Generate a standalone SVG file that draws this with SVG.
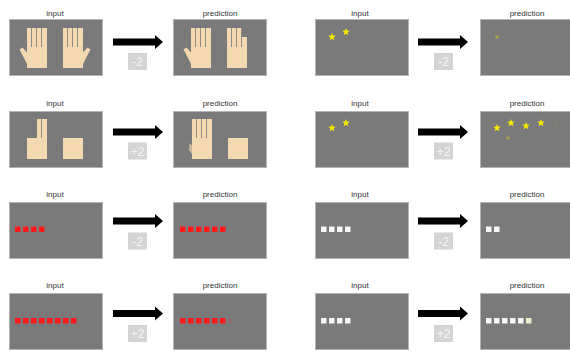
<svg xmlns="http://www.w3.org/2000/svg" xmlns:xlink="http://www.w3.org/1999/xlink" width="570" height="351" viewBox="0 0 570 351">
  <style>
    .panel { fill: #7a7a7a; stroke: #b4b4b4; stroke-width: 1; }
    .label { font-family: "Liberation Sans", Arial, sans-serif; font-size: 8px; fill: #333333; text-anchor: middle; }
    .skin { fill: #f3d8b2; }
    .star { fill: #f5e800; }
    .red { fill: #ff1a1a; }
    .white { fill: #f7f7f7; }
    .arrow { fill: #000000; }
    .op-box { fill: #d4d4d4; }
    .op-text { font-family: "Liberation Sans", Arial, sans-serif; font-size: 12px; fill: #f4f4f4; text-anchor: middle; }
  </style>
  <defs>
    <!-- hand parts, origin at the palm's top-left corner -->
    <g id="finger-a"><rect class="skin" x="0" y="-19" width="4.2" height="20"/></g>
    <g id="finger-b"><rect class="skin" x="5" y="-19" width="4.2" height="20"/></g>
    <g id="finger-c"><rect class="skin" x="10" y="-19" width="4.2" height="20"/></g>
    <g id="finger-d"><rect class="skin" x="15" y="-19" width="5" height="20"/></g>
    <g id="palm"><rect class="skin" x="0" y="0" width="20" height="21"/></g>
    <g id="thumb-left"><polygon class="skin" points="0.5,6 -4.5,0.5 -7.5,2.5 -3,11 0.5,18"/></g>
    <g id="thumb-right"><polygon class="skin" points="19.5,6 24.5,0.5 27.5,2.5 23,11 19.5,18"/></g>
    <g id="hand-left">
      <use href="#finger-a"/><use href="#finger-b"/><use href="#finger-c"/><use href="#finger-d"/>
      <use href="#palm"/><use href="#thumb-left"/>
    </g>
    <g id="hand-right">
      <use href="#finger-a"/><use href="#finger-b"/><use href="#finger-c"/><use href="#finger-d"/>
      <use href="#palm"/><use href="#thumb-right"/>
    </g>
    <path id="star" d="M0,-4 L1,-1.38 L3.8,-1.24 L1.62,0.53 L2.35,3.24 L0,1.7 L-2.35,3.24 L-1.62,0.53 L-3.8,-1.24 L-1,-1.38 Z"/>
    <rect id="sq" x="0" y="0" width="5.5" height="5.5"/>
    <polygon id="arrow" class="arrow" points="0,-3.5 42,-3.5 42,-7 50,0 42,7 42,3.5 0,3.5"/>
  </defs>

  <!-- row 1, left: fingers minus two -->
  <g id="r1-left-input">
    <text class="label" x="55" y="16">input</text>
    <rect class="panel" x="9.5" y="19.5" width="93" height="56"/>
    <use href="#hand-left" x="27" y="47"/>
    <use href="#hand-right" x="63" y="47"/>
  </g>
  <g id="r1-left-prediction">
    <text class="label" x="220" y="16">prediction</text>
    <rect class="panel" x="173.5" y="19.5" width="93" height="56"/>
    <use href="#hand-left" x="191" y="47"/>
    <g transform="translate(227,47)">
      <use href="#finger-a"/><use href="#finger-b"/><use href="#finger-c"/>
      <rect class="skin" x="15" y="-10" width="5" height="11"/>
      <use href="#palm"/>
    </g>
  </g>

  <!-- row 1, right: stars minus two -->
  <g id="r1-right-input">
    <text class="label" x="360" y="16">input</text>
    <rect class="panel" x="315.5" y="19.5" width="93" height="56"/>
    <use href="#star" class="star" x="332" y="37"/>
    <use href="#star" class="star" x="346" y="32"/>
  </g>
  <g id="r1-right-prediction">
    <text class="label" x="527" y="16">prediction</text>
    <rect class="panel" x="480.5" y="19.5" width="93" height="56"/>
    <use href="#star" fill="#a8a648" transform="translate(497,37) scale(0.7)"/>
  </g>

  <!-- row 2, left: fingers plus two -->
  <g id="r2-left-input">
    <text class="label" x="55" y="106">input</text>
    <rect class="panel" x="9.5" y="111.5" width="93" height="56"/>
    <g transform="translate(27,138)">
      <use href="#finger-c"/><use href="#finger-d"/><use href="#palm"/>
    </g>
    <use href="#palm" x="63" y="138"/>
  </g>
  <g id="r2-left-prediction">
    <text class="label" x="220" y="106">prediction</text>
    <rect class="panel" x="173.5" y="111.5" width="93" height="56"/>
    <g transform="translate(192,138)">
      <polygon points="0.5,8 -2.5,5 -3,12 0.5,17" fill="#c8b69a"/>
      <use href="#finger-a"/><use href="#finger-b"/><use href="#finger-c"/><use href="#finger-d"/>
      <use href="#palm"/>
    </g>
    <use href="#palm" x="228" y="138"/>
  </g>

  <!-- row 2, right: stars plus two -->
  <g id="r2-right-input">
    <text class="label" x="360" y="106">input</text>
    <rect class="panel" x="315.5" y="111.5" width="93" height="56"/>
    <use href="#star" class="star" x="332" y="128"/>
    <use href="#star" class="star" x="346" y="123"/>
  </g>
  <g id="r2-right-prediction">
    <text class="label" x="527" y="106">prediction</text>
    <rect class="panel" x="480.5" y="111.5" width="93" height="56"/>
    <use href="#star" class="star" x="497" y="128"/>
    <use href="#star" class="star" x="511" y="123"/>
    <use href="#star" class="star" x="526" y="126"/>
    <use href="#star" class="star" x="541" y="123"/>
    <use href="#star" fill="#a4a052" transform="translate(508,138) scale(0.75)"/>
    <use href="#star" fill="#858270" transform="translate(555,125) scale(0.6)"/>
  </g>

  <!-- row 3, left: red squares -->
  <g id="r3-left-input">
    <text class="label" x="55" y="197">input</text>
    <rect class="panel" x="9.5" y="202.5" width="93" height="56"/>
    <g class="red">
      <use href="#sq" x="15" y="226.5"/><use href="#sq" x="23" y="226.5"/>
      <use href="#sq" x="31" y="226.5"/><use href="#sq" x="39" y="226.5"/>
    </g>
  </g>
  <g id="r3-left-prediction">
    <text class="label" x="220" y="197">prediction</text>
    <rect class="panel" x="173.5" y="202.5" width="93" height="56"/>
    <g class="red">
      <use href="#sq" x="180" y="226.5"/><use href="#sq" x="188" y="226.5"/>
      <use href="#sq" x="196" y="226.5"/><use href="#sq" x="204" y="226.5"/>
      <use href="#sq" x="212" y="226.5"/><use href="#sq" x="220" y="226.5"/>
    </g>
  </g>

  <!-- row 3, right: white squares -->
  <g id="r3-right-input">
    <text class="label" x="360" y="197">input</text>
    <rect class="panel" x="315.5" y="202.5" width="93" height="56"/>
    <g class="white">
      <use href="#sq" x="321" y="226.5"/><use href="#sq" x="329" y="226.5"/>
      <use href="#sq" x="337" y="226.5"/><use href="#sq" x="345" y="226.5"/>
    </g>
  </g>
  <g id="r3-right-prediction">
    <text class="label" x="527" y="197">prediction</text>
    <rect class="panel" x="480.5" y="202.5" width="93" height="56"/>
    <g class="white">
      <use href="#sq" x="486" y="226.5"/><use href="#sq" x="494" y="226.5"/>
    </g>
  </g>

  <!-- row 4, left: red squares -->
  <g id="r4-left-input">
    <text class="label" x="55" y="288">input</text>
    <rect class="panel" x="9.5" y="293.5" width="93" height="56"/>
    <g class="red">
      <use href="#sq" x="15" y="318"/><use href="#sq" x="23" y="318"/>
      <use href="#sq" x="31" y="318"/><use href="#sq" x="39" y="318"/>
      <use href="#sq" x="47" y="318"/><use href="#sq" x="55" y="318"/>
      <use href="#sq" x="63" y="318"/><use href="#sq" x="71" y="318"/>
    </g>
  </g>
  <g id="r4-left-prediction">
    <text class="label" x="220" y="288">prediction</text>
    <rect class="panel" x="173.5" y="293.5" width="93" height="56"/>
    <g class="red">
      <use href="#sq" x="180" y="318"/><use href="#sq" x="188" y="318"/>
      <use href="#sq" x="196" y="318"/><use href="#sq" x="204" y="318"/>
      <use href="#sq" x="212" y="318"/><use href="#sq" x="220" y="318"/>
    </g>
    <rect x="228.5" y="319" width="4" height="4" fill="#8e6c6c"/>
  </g>

  <!-- row 4, right: white squares -->
  <g id="r4-right-input">
    <text class="label" x="360" y="288">input</text>
    <rect class="panel" x="315.5" y="293.5" width="93" height="56"/>
    <g class="white">
      <use href="#sq" x="321" y="318"/><use href="#sq" x="329" y="318"/>
      <use href="#sq" x="337" y="318"/><use href="#sq" x="345" y="318"/>
    </g>
  </g>
  <g id="r4-right-prediction">
    <text class="label" x="527" y="288">prediction</text>
    <rect class="panel" x="480.5" y="293.5" width="93" height="56"/>
    <g class="white">
      <use href="#sq" x="486" y="318"/><use href="#sq" x="494" y="318"/>
      <use href="#sq" x="502" y="318"/><use href="#sq" x="510" y="318"/>
      <use href="#sq" x="518" y="318"/>
    </g>
    <use href="#sq" x="526" y="318" fill="#eeeccc"/>
  </g>

  <!-- arrows from input to prediction, each with its operation tag -->
  <g id="connectors">
    <use href="#arrow" x="113" y="42"/>
    <use href="#arrow" x="418" y="42"/>
    <use href="#arrow" x="113" y="132"/>
    <use href="#arrow" x="418" y="132"/>
    <use href="#arrow" x="113" y="221"/>
    <use href="#arrow" x="418" y="221"/>
    <use href="#arrow" x="113" y="313.5"/>
    <use href="#arrow" x="418" y="313.5"/>

    <rect class="op-box" x="128" y="53" width="19" height="17"/>
    <text class="op-text" x="137.5" y="66">-2</text>
    <rect class="op-box" x="434" y="53" width="19" height="17"/>
    <text class="op-text" x="443.5" y="66">-2</text>
    <rect class="op-box" x="128" y="142.5" width="19" height="17"/>
    <text class="op-text" x="137.5" y="155.5">+2</text>
    <rect class="op-box" x="434" y="142.5" width="19" height="17"/>
    <text class="op-text" x="443.5" y="155.5">+2</text>
    <rect class="op-box" x="128" y="232.5" width="19" height="17"/>
    <text class="op-text" x="137.5" y="245.5">-2</text>
    <rect class="op-box" x="434" y="232.5" width="19" height="17"/>
    <text class="op-text" x="443.5" y="245.5">-2</text>
    <rect class="op-box" x="128" y="325" width="19" height="17"/>
    <text class="op-text" x="137.5" y="338">+2</text>
    <rect class="op-box" x="434" y="325" width="19" height="17"/>
    <text class="op-text" x="443.5" y="338">+2</text>
  </g>
</svg>
